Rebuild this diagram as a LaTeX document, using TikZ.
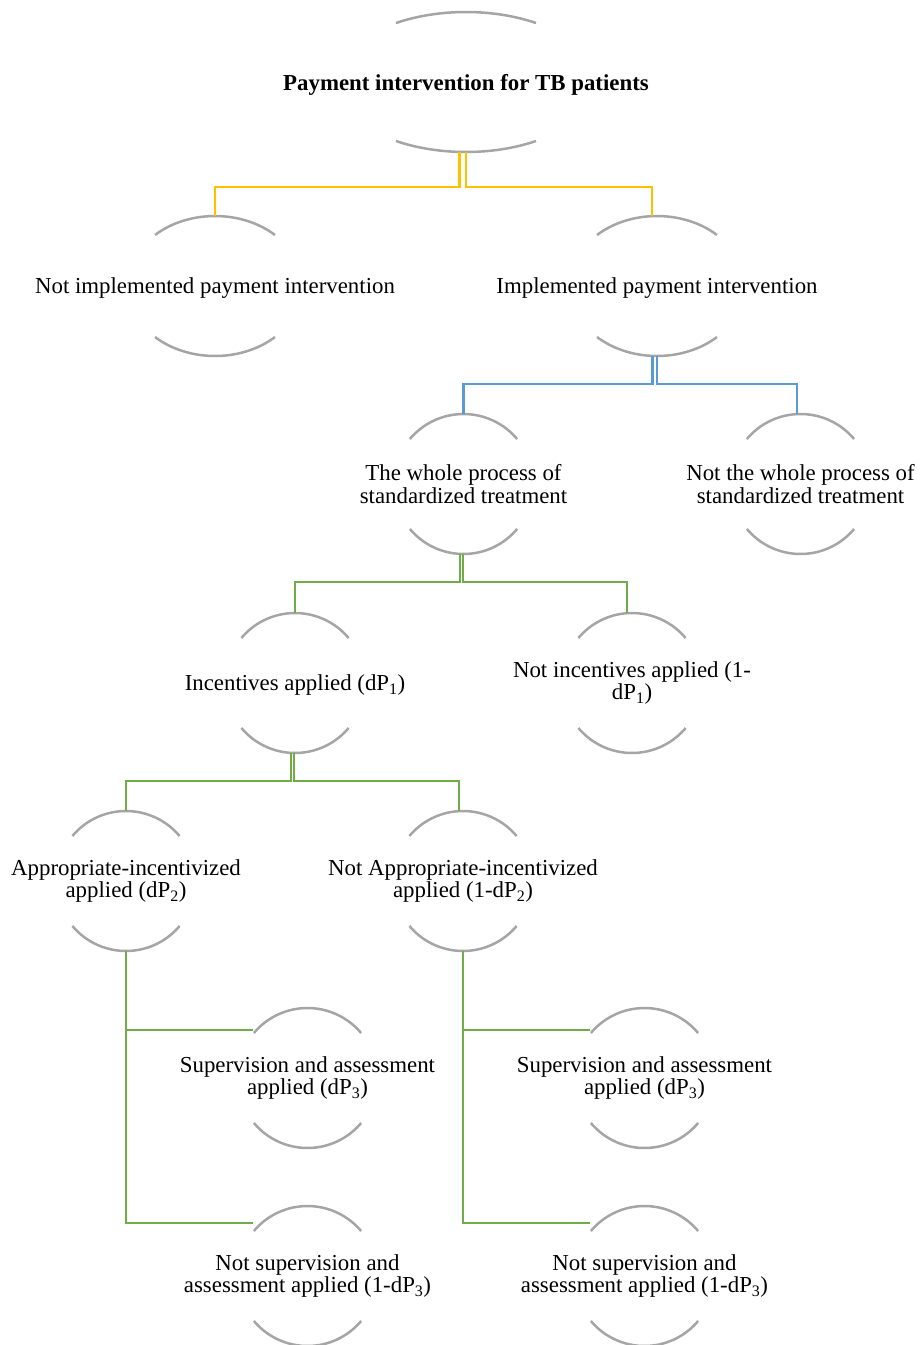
\documentclass[tikz,border=0pt]{standalone}
\usepackage{fontspec}
\setmainfont{Liberation Serif}
\usepackage{xcolor}
\usepackage{tikz}
\usetikzlibrary{positioning}
\definecolor{rim}{HTML}{A5A5A5}
\definecolor{gold}{HTML}{FFC000}
\definecolor{sky}{HTML}{5B9BD5}
\definecolor{leaf}{HTML}{70AD47}

\begin{document}
\begin{tikzpicture}[
  x=1pt, y=1pt,
  item/.style={align=center, inner sep=0pt, font=\fontsize{22.85}{22.3}\selectfont},
  oneline/.style={item, text depth=0pt},
  cup/.style={draw=rim, line width=2.5pt},
  link/.style={line width=2.5pt}
]
\useasboundingbox (0,0) rectangle (921,-1345);
\node[oneline, font=\fontsize{22.85}{22.3}\selectfont\bfseries] (root) at (466,-82) {Payment intervention for TB patients};
\node[oneline] (notimpl) at (215,-286) {Not implemented payment intervention};
\node[oneline] (impl) at (657,-286) {Implemented payment intervention};
\node[item] (whole) at (463.5,-484) {The whole process of\\standardized treatment};
\node[item] (notwhole) at (800.5,-484) {Not the whole process of\\standardized treatment};
\node[oneline] (incent) at (295,-683) {Incentives applied (dP\textsubscript{1})};
\node[item] (notincent) at (632,-683) {Not incentives applied (1-\\dP\textsubscript{1})};
\node[item] (approp) at (126,-881) {Appropriate-incentivized\\applied (dP\textsubscript{2})};
\node[item] (notapprop) at (463,-881) {Not Appropriate-incentivized\\applied (1-dP\textsubscript{2})};
\node[item] (sup1) at (307.5,-1078) {Supervision and assessment\\applied (dP\textsubscript{3})};
\node[item] (notsup1) at (307.5,-1276) {Not supervision and\\assessment applied (1-dP\textsubscript{3})};
\node[item] (sup2) at (644.5,-1078) {Supervision and assessment\\applied (dP\textsubscript{3})};
\node[item] (notsup2) at (644.5,-1276) {Not supervision and\\assessment applied (1-dP\textsubscript{3})};
% arcs above and below each label
\foreach \n/\a/\t in {root/130/57.4, notimpl/87.6/46.8, impl/87.6/46.8,
    whole/70/40, notwhole/70/40, incent/70/40, notincent/70/40,
    approp/70/40, notapprop/70/40, sup1/70/40, notsup1/70/40,
    sup2/70/40, notsup2/70/40}
  \draw[cup] ([shift={({\a*cos(\t)},{70*sin(\t)})}]\n.center)
      arc[start angle=\t, end angle=180-\t, x radius=\a pt, y radius=70pt]
    ([shift={({-\a*cos(\t)},{-70*sin(\t)})}]\n.center)
      arc[start angle=180+\t, end angle=360-\t, x radius=\a pt, y radius=70pt];
\draw[link, gold] ([shift={(-6.5,-70)}]root.center) -- ++(0,-35) -| ([yshift=70pt]notimpl.center);
\draw[link, gold] ([shift={(0,-70)}]root.center) -- ++(0,-35) -| ([shift={(-5,70)}]impl.center);
\draw[link, sky] ([shift={(-4.5,-70)}]impl.center) -- ++(0,-28) -| ([yshift=70pt]whole.center);
\draw[link, sky] ([shift={(0,-70)}]impl.center) -- ++(0,-28) -| ([shift={(-3.5,70)}]notwhole.center);
\draw[link, leaf] ([shift={(-3.5,-70)}]whole.center) -- ++(0,-28) -| ([yshift=70pt]incent.center);
\draw[link, leaf] ([shift={(-0.5,-70)}]whole.center) -- ++(0,-28) -| ([shift={(-5,70)}]notincent.center);
\draw[link, leaf] ([shift={(-4,-70)}]incent.center) -- ++(0,-28) -| ([yshift=70pt]approp.center);
\draw[link, leaf] ([shift={(-1,-70)}]incent.center) -- ++(0,-28) -| ([shift={(-4,70)}]notapprop.center);
\draw[link, leaf] ([yshift=-70pt]approp.center) |- ([shift={(-55,48)}]sup1.center);
\draw[link, leaf] ([yshift=-70pt]approp.center) |- ([shift={(-55,53)}]notsup1.center);
\draw[link, leaf] ([yshift=-70pt]notapprop.center) |- ([shift={(-55,48)}]sup2.center);
\draw[link, leaf] ([yshift=-70pt]notapprop.center) |- ([shift={(-55,53)}]notsup2.center);
\end{tikzpicture}
\end{document}
